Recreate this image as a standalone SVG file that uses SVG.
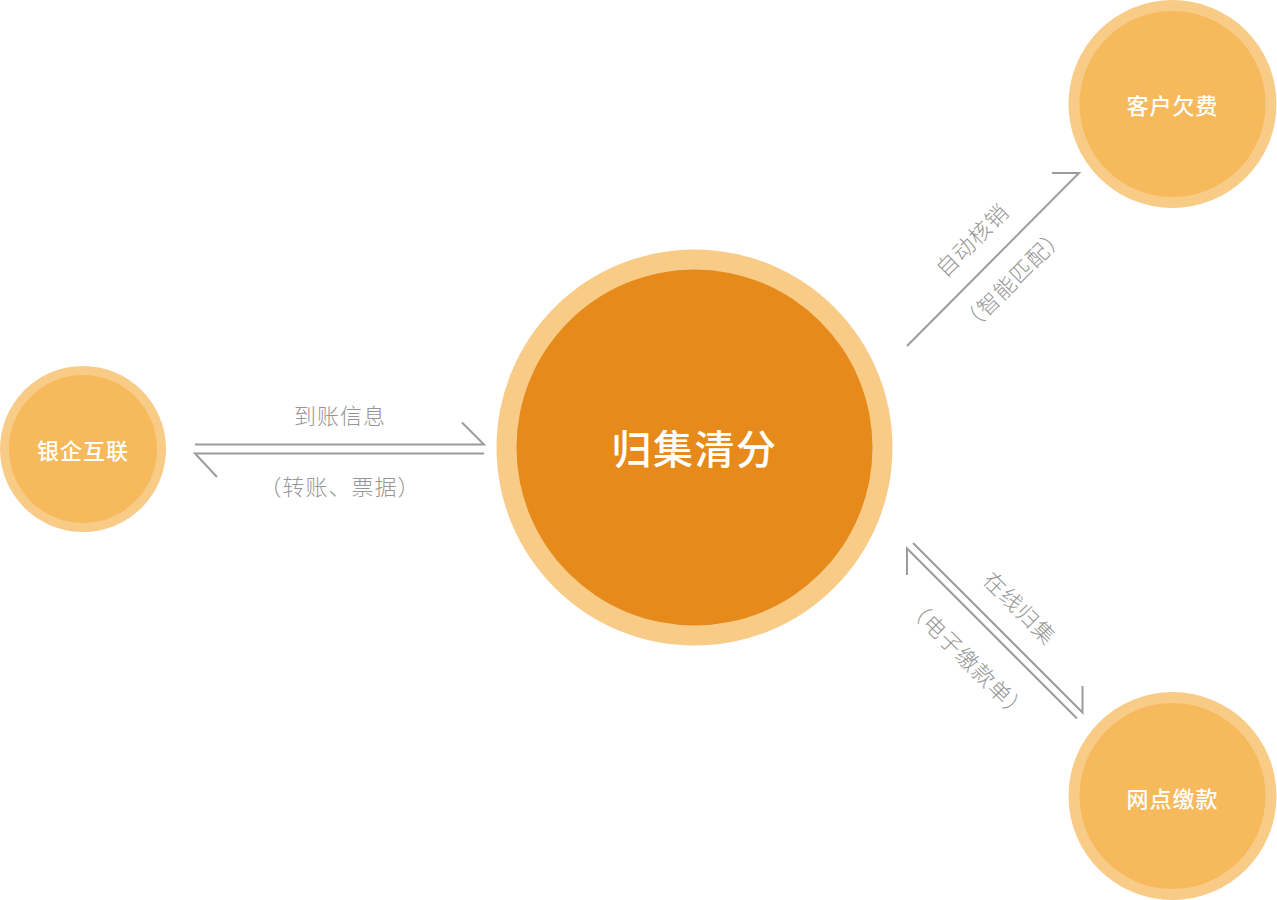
<svg xmlns="http://www.w3.org/2000/svg" width="1277" height="900" viewBox="0 0 1277 900">
<style>
.outer{fill:#F8CB87}
.inner{fill:#F6B95B}
.core{fill:#E68A1B}
.ntext{font-family:"Noto Sans CJK SC","Noto Sans",sans-serif;font-size:22px;fill:#FFFFFF;text-anchor:middle;dominant-baseline:central;letter-spacing:1px;font-weight:500}
.ctext{font-family:"Noto Sans CJK SC","Noto Sans",sans-serif;font-size:40px;fill:#FFFFFF;text-anchor:middle;dominant-baseline:central;letter-spacing:1.5px;font-weight:500}
.label{font-family:"Noto Sans CJK SC","Noto Sans",sans-serif;font-size:22px;fill:#969696;text-anchor:middle;dominant-baseline:central;letter-spacing:1px;font-weight:300}
.line{fill:none;stroke:#9A9D9D;stroke-width:2}
</style>
<rect width="1277" height="900" fill="#FFFFFF"/>
<g id="node-center">
<circle class="outer" cx="694.5" cy="447.5" r="198"/>
<circle class="core" cx="694.5" cy="447.5" r="178"/>
<text class="ctext" x="694.5" y="447">归集清分</text>
</g>
<g id="node-bank">
<circle class="outer" cx="83" cy="449" r="83"/>
<circle class="inner" cx="83" cy="449" r="74"/>
<text class="ntext" x="83" y="449">银企互联</text>
</g>
<g id="node-customer">
<circle class="outer" cx="1172.5" cy="104" r="104"/>
<circle class="inner" cx="1172.5" cy="104" r="93"/>
<text class="ntext" x="1172.5" y="104">客户欠费</text>
</g>
<g id="node-branch">
<circle class="outer" cx="1172.5" cy="796" r="104"/>
<circle class="inner" cx="1172.5" cy="796" r="93"/>
<text class="ntext" x="1172.5" y="797">网点缴款</text>
</g>
<g id="connectors">
<polyline class="line" points="195,444.5 484,444.5 462,422.5"/>
<polyline class="line" points="484,453.5 195,453.5 217,477"/>
<polyline class="line" points="907,346 1079,173 1052,173"/>
<polyline class="line" points="913,543 1082.5,712.5 1082.5,686"/>
<polyline class="line" points="907,575 907,548.5 1077,718.5"/>
</g>
<g id="labels">
<text class="label" x="340" y="414">到账信息</text>
<text class="label" x="340" y="485">（转账、票据）</text>
<text class="label" transform="translate(971,239) rotate(-45)" x="0" y="0">自动核销</text>
<text class="label" transform="translate(1012,278) rotate(-45)" x="0" y="0">（智能匹配）</text>
<text class="label" transform="translate(1021,607) rotate(45)" x="0" y="0">在线归集</text>
<text class="label" transform="translate(969,658) rotate(45)" x="0" y="0">（电子缴款单）</text>
</g>
</svg>
